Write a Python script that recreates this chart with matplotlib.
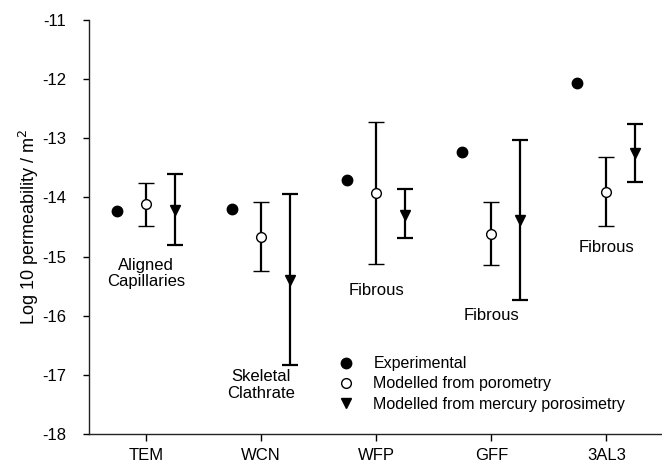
import numpy as np
import matplotlib
matplotlib.use("Agg")
import matplotlib.pyplot as plt

plt.rcParams['font.family'] = ['Liberation Sans', 'DejaVu Sans']
plt.rcParams['axes.unicode_minus'] = False

# log10 permeability (m^2) per sample
samples = ["TEM", "WCN", "WFP", "GFF", "3AL3"]
experimental = [-14.23, -14.20, -13.71, -13.23, -12.07]

poro_mid = [-14.11, -14.66, -13.92, -14.61, -13.90]
poro_hi = [-13.76, -14.08, -12.73, -14.07, -13.32]
poro_lo = [-14.48, -15.25, -15.13, -15.14, -14.49]

merc_mid = [-14.21, -15.40, -14.29, -14.38, -13.25]
merc_hi = [-13.60, -13.94, -13.86, -13.03, -12.76]
merc_lo = [-14.80, -16.83, -14.69, -15.73, -13.74]

# structure notes: (sample index, value, text)
notes = [
    (0, -15.28, "Aligned\nCapillaries"),
    (1, -17.17, "Skeletal\nClathrate"),
    (2, -15.58, "Fibrous"),
    (3, -15.99, "Fibrous"),
    (4, -14.85, "Fibrous"),
]

x = np.arange(1, len(samples) + 1)
poro_mid = np.array(poro_mid)
merc_mid = np.array(merc_mid)
poro_err = [poro_mid - np.array(poro_lo), np.array(poro_hi) - poro_mid]
merc_err = [merc_mid - np.array(merc_lo), np.array(merc_hi) - merc_mid]

fig = plt.figure(figsize=(6.62, 4.65), dpi=100)
ax = fig.add_axes([0.134, 0.0667, 0.869, 0.89])

ax.plot(x - 0.255, experimental, 'o', color='black', ms=7.5,
        label='Experimental', zorder=3)
pe = ax.errorbar(x, poro_mid, yerr=poro_err, fmt='o', mfc='white', mec='black',
                 ms=7, mew=1.0, ecolor='black', elinewidth=1.6, capsize=5.6,
                 capthick=1.6, label='Modelled from porometry', zorder=3)
me = ax.errorbar(x + 0.25, merc_mid, yerr=merc_err, fmt='v', color='black',
                 ms=7.5, ecolor='black', elinewidth=1.6, capsize=5.6,
                 capthick=1.6, label='Modelled from mercury porosimetry',
                 zorder=3)

for i, yv, txt in notes:
    ax.text(x[i], yv, txt, ha='center', va='center', fontsize=12,
            linespacing=1.1)

ax.set_xlim(0.5, 5.5)
ax.set_ylim(-18, -11)
ax.set_xticks(x)
ax.set_xticklabels(samples, fontsize=12)
ax.set_yticks(np.arange(-18, -10))
ax.tick_params(axis='y', labelsize=12, direction='out', length=4, width=1,
               pad=12)
ax.tick_params(axis='x', direction='out', length=5, width=1, pad=5)
ax.set_ylabel("Log 10 permeability / m$^2$", fontsize=13, labelpad=1)

for s in ['top', 'right']:
    ax.spines[s].set_visible(False)
for s in ['left', 'bottom']:
    ax.spines[s].set_linewidth(1.0)
    ax.spines[s].set_color('#222222')

# legend shows the bare markers, no error bar glyphs
handles, labels = ax.get_legend_handles_labels()
leg_handles = [h.lines[0] if hasattr(h, 'lines') else h for h in handles]
ax.legend(leg_handles, labels, loc='center left',
          bbox_to_anchor=(0.4325, 0.121), frameon=False, fontsize=11.5,
          borderpad=0, borderaxespad=0, handletextpad=1.25,
          labelspacing=0.32, handlelength=1.0)

fig.savefig("out.png", dpi=100)
